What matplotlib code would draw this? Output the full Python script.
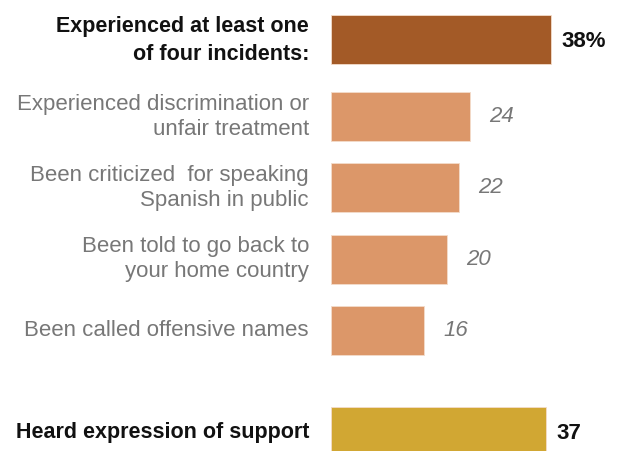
import matplotlib
matplotlib.use("Agg")
import matplotlib.pyplot as plt

# --[data]---------------------------------------------------------------------
labels = [
    "Experienced at least one\nof four incidents:",
    "Experienced discrimination or\nunfair treatment",
    "Been criticized  for speaking\nSpanish in public",
    "Been told to go back to\nyour home country",
    "Been called offensive names",
    "Heard expression of support",
]
values = [38, 24, 22, 20, 16, 37]
value_text = ["38%", "24", "22", "20", "16", "37"]

# --[layout]-------------------------------------------------------------------
rows = [40.3, 117.8, 188.7, 260.3, 331.7, 432.8]   # bar centres, px from top
bar_h = 49
px_per_unit = 5.8
x0_px = 331
label_px = 309
colors = ["#A35A27", "#DC9769", "#DC9769", "#DC9769", "#DC9769", "#D1A733"]
summary = [True, False, False, False, False, True]

fig = plt.figure(figsize=(6.17, 4.52), dpi=100)
ax = fig.add_axes([0, 0, 1, 1])
ax.set_xlim(-x0_px / px_per_unit, (617 - x0_px) / px_per_unit)
ax.set_ylim(452, 0)
ax.axis("off")

ax.barh(rows, values, height=bar_h, color=colors, edgecolor="#f3dccb", linewidth=0.6)

label_x = (label_px - x0_px) / px_per_unit
for y, lab, val, txt, bold in zip(rows, labels, values, value_text, summary):
    if bold:
        ax.text(label_x, y, lab, ha="right", va="center", fontsize=15.5,
                fontweight="bold", color="#111111", family="Liberation Sans",
                linespacing=1.45)
        ax.text(val + 1.8, y + 1, txt, ha="left", va="center", fontsize=16,
                fontweight="bold", color="#111111", family="Liberation Sans")
    else:
        ax.text(label_x, y - 1, lab, ha="right", va="center", fontsize=16,
                color="#777777", family="Liberation Sans", linespacing=1.25)
        ax.text(val + 3.3, y - 1, txt, ha="left", va="center", fontsize=16,
                style="italic", color="#777777", family="Liberation Sans")

fig.savefig("out.png", dpi=100)
